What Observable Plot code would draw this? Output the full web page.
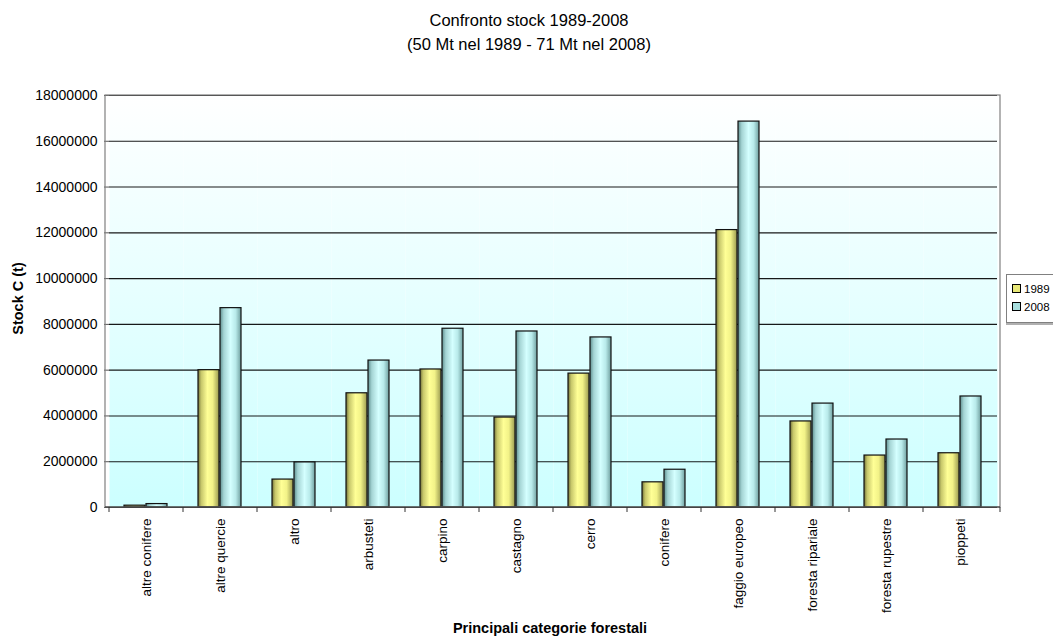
<!DOCTYPE html>
<html><head><meta charset="utf-8">
<script src="https://cdn.jsdelivr.net/npm/d3@7"></script>
<script src="https://cdn.jsdelivr.net/npm/@observablehq/plot@0.6"></script>
<style>
html,body{margin:0;padding:0;background:#fff;overflow:hidden;width:1053px;height:637px}
#wrap{position:relative;width:1053px;height:637px;font-family:"Liberation Sans",Arial,sans-serif;color:#000}
#title{position:absolute;left:0;width:1058px;top:8px;text-align:center;font-size:16.5px;line-height:24px}
#ylab{position:absolute;left:-32px;top:290px;width:100px;text-align:center;font-size:14.5px;font-weight:bold;transform:rotate(-90deg);line-height:17px}
#xlab{position:absolute;left:400px;top:620px;width:300px;text-align:center;font-size:14.5px;font-weight:bold;line-height:17px}
#legend{position:absolute;left:1006px;top:274px;width:46px;height:47px;border:1px solid #808080;border-right:none;background:#fff;font-size:11.5px;box-shadow:0 2px 0 #b0b0b0}
.li{position:absolute;left:5px;height:14px;line-height:14px;white-space:nowrap}
.sw{display:inline-block;width:7px;height:7px;border:1px solid #000;margin-right:3px;vertical-align:0px}
#chart{position:absolute;left:0;top:0}
</style>
</head><body>
<div id="wrap">
  <div id="title">Confronto stock 1989-2008<br>(50 Mt nel 1989 - 71 Mt nel 2008)</div>
  <div id="chart"></div>
  <div id="ylab">Stock C (t)</div>
  <div id="xlab">Principali categorie forestali</div>
  <div id="legend"></div>
</div>
<script>
const categories = ["altre conifere","altre quercie","altro","arbusteti","carpino","castagno","cerro","conifere","faggio europeo","foresta ripariale","foresta rupestre","pioppeti"];
const years = ["1989","2008"];
const values1989 = [80000, 6000000, 1220000, 4990000, 6030000, 3930000, 5850000, 1100000, 12120000, 3760000, 2270000, 2370000];
const values2008 = [150000, 8710000, 1970000, 6420000, 7810000, 7690000, 7430000, 1650000, 16860000, 4540000, 2970000, 4850000];
const yTicks = [0,2000000,4000000,6000000,8000000,10000000,12000000,14000000,16000000,18000000];
const yearFills = {"1989": "url(#g1989)", "2008": "url(#g2008)"};
const legendColors = {"1989": "#e8e878", "2008": "#a8dede"};

const data = [];
categories.forEach((c, i) => {
  data.push({cat: c, year: "1989", v: values1989[i]});
  data.push({cat: c, year: "2008", v: values2008[i]});
});

const W = 1053, H = 637;
const chart = Plot.plot({
  width: W, height: H,
  marginLeft: 105, marginRight: 53, marginTop: 95, marginBottom: 130,
  style: {fontFamily: '"Liberation Sans", Arial, sans-serif', fontSize: "12px", color: "#000", background: "transparent"},
  fx: {domain: categories, padding: 0, label: null},
  x: {domain: years, paddingInner: 0.03, paddingOuter: 0.66, axis: null},
  y: {domain: [0, 18000000], label: null},
  marks: [
    Plot.frame({fill: "url(#gbg)", stroke: "none"}),
    Plot.gridY(yTicks, {stroke: "#000", strokeOpacity: 0.9, strokeWidth: 1.1}),
    Plot.barY(data, {fx: "cat", x: "year", y: "v", fill: d => yearFills[d.year], stroke: "#111", strokeWidth: 1.2}),
    Plot.axisY({ticks: yTicks, tickFormat: d3.format("d"), tickSize: 5, tickPadding: 7, fontSize: 14, label: null, stroke: "#555"}),
    Plot.axisFx({anchor: "bottom", tickRotate: -90, tickSize: 0, tickPadding: 11, fontSize: 13.5, label: null})
  ]
});
document.getElementById("chart").appendChild(chart);

// gradients
const svg = d3.select(chart);
const defs = svg.insert("defs", ":first-child");
function grad(id, stops, vertical) {
  const g = defs.append("linearGradient").attr("id", id)
    .attr("x1", 0).attr("y1", 0).attr("x2", vertical ? 0 : 1).attr("y2", vertical ? 1 : 0);
  stops.forEach(([o, c]) => g.append("stop").attr("offset", o).attr("stop-color", c));
}
grad("gbg", [["0%", "#ffffff"], ["100%", "#ccffff"]], true);
grad("g1989", [["0%", "#6f6f38"], ["15%", "#c6c66a"], ["45%", "#ffff96"], ["70%", "#f2f288"], ["100%", "#9a9a50"]], false);
grad("g2008", [["0%", "#5e8e8e"], ["18%", "#a4d4d4"], ["50%", "#d4ffff"], ["75%", "#b8eaea"], ["100%", "#6f9f9f"]], false);

// border and category boundary ticks
const fx = chart.scale("fx"), y = chart.scale("y");
const x0 = 105, x1 = W - 53, yTop = y.apply(18000000), yBot = y.apply(0);
svg.append("rect").attr("x", x0).attr("y", yTop).attr("width", x1 - x0).attr("height", yBot - yTop)
  .attr("fill", "none").attr("stroke", "#808080").attr("stroke-width", 1.2);
svg.append("line").attr("x1", x0).attr("x2", x1).attr("y1", yBot).attr("y2", yBot).attr("stroke", "#333");
const bounds = categories.map(c => fx.apply(c)).concat([x1]);
bounds.forEach(b => svg.append("line").attr("x1", b).attr("x2", b).attr("y1", yBot).attr("y2", yBot + 5).attr("stroke", "#333"));

// legend
const leg = document.getElementById("legend");
years.forEach((yr, i) => {
  const d = document.createElement("div");
  d.className = "li";
  d.style.top = (7 + i * 18) + "px";
  d.innerHTML = `<span class="sw" style="background:${legendColors[yr]}"></span>${yr}`;
  leg.appendChild(d);
});
</script>
</body></html>
